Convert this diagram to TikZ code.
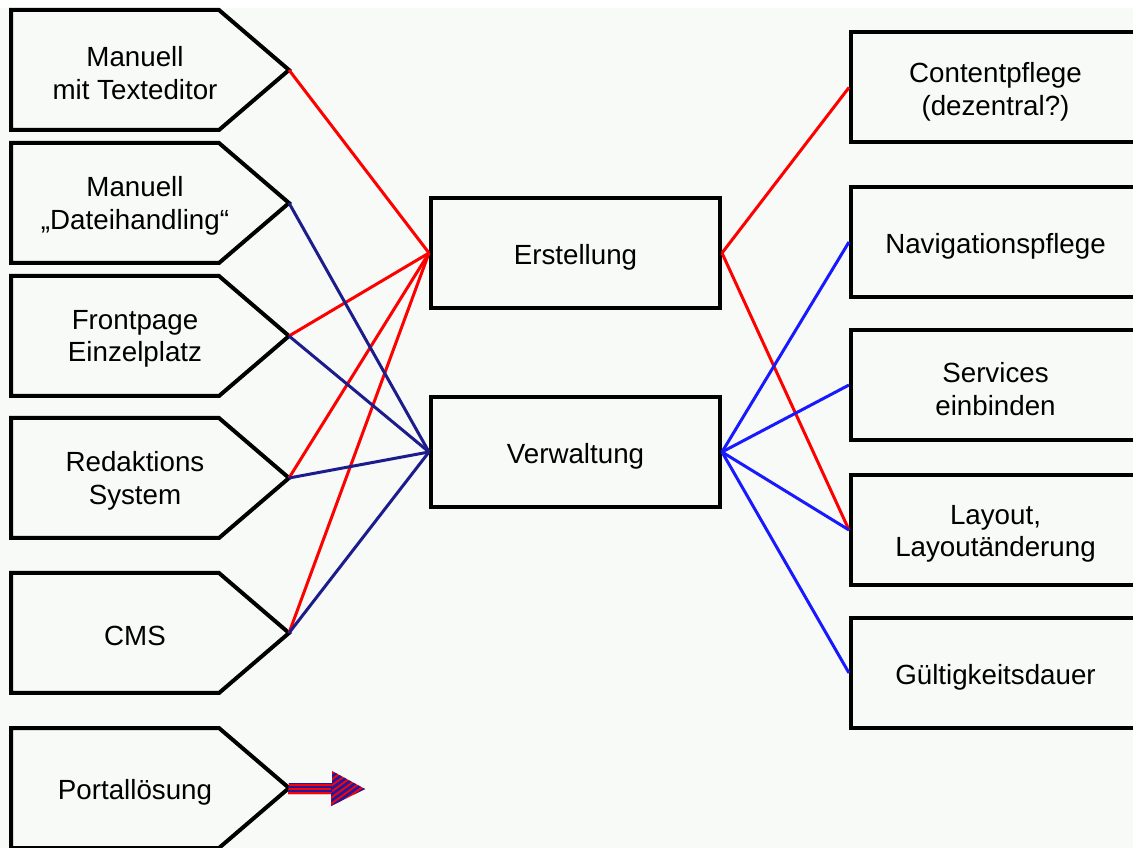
\documentclass[tikz,border=0pt]{standalone}
\usepackage{fontspec}
\setmainfont{Liberation Sans}
\definecolor{paper}{RGB}{247,250,247}
\definecolor{linkred}{RGB}{255,0,0}
\definecolor{linknavy}{RGB}{28,28,140}
\definecolor{linkblue}{RGB}{25,25,255}
\begin{document}
\begin{tikzpicture}[x=0.75pt,y=-0.75pt,
  frame/.style={draw=black,line width=3pt,line join=miter},
  txt/.style={font=\fontsize{20.8}{24.5}\selectfont,align=center,inner sep=0pt},
  box/.style={frame,fill=paper,minimum width=216.75pt,minimum height=82.5pt},
  boxtext/.style={txt,yshift=-3pt},
  redlink/.style={draw=linkred,line width=2.25pt},
  navylink/.style={draw=linknavy,line width=2.25pt},
  bluelink/.style={draw=linkblue,line width=2.25pt}]
% canvas
\clip (0,0) rectangle (1133,848);
\fill[white] (0,0) rectangle (1133,848);
\fill[paper] (0,8) rectangle (1133,848);

% source shapes (pentagons pointing right)
\foreach[count=\i] \ty in {10,143,276,418,573,728} {
  \draw[frame,fill=paper] (11,\ty) -- (219,\ty) -- (289,\ty+60) -- (219,\ty+120) -- (11,\ty+120) -- cycle;
  \coordinate (tip\i) at (289,\ty+60);
}
\node[txt] (src1) at (135,73) {Manuell\\mit Texteditor};
\node[txt] (src2) at (135,206) {Manuell\\„Dateihandling“};
\node[txt] (src3) at (135,339) {Frontpage\\Einzelplatz};
\node[txt] (src4) at (135,481) {Redaktions\\System};
\node[txt] (src5) at (135,636) {CMS};
\node[txt] (src6) at (135,792) {Portallösung};

% central boxes
\node[box] (erst) at (575.5,253) {};
\node[boxtext] (erst-t) at (erst) {Erstellung};
\node[box] (verw) at (575.5,452) {};
\node[boxtext] (verw-t) at (verw) {Verwaltung};

% task boxes on the right
\node[box] (content) at (995.5,87.5) {};
\node[boxtext] (content-t) at (content) {Contentpflege\\(dezentral?)};
\node[box] (navi) at (995.5,242) {};
\node[boxtext] (navi-t) at (navi) {Navigationspflege};
\node[box] (serv) at (995.5,385) {};
\node[boxtext] (serv-t) at (serv) {Services\\einbinden};
\node[box] (layout) at (995.5,530) {};
\node[boxtext] (layout-t) at (layout) {Layout,\\Layoutänderung};
\node[box] (valid) at (995.5,673) {};
\node[boxtext] (valid-t) at (valid) {Gültigkeitsdauer};

% links from the sources
\draw[redlink] (tip1) -- (erst.west);
\draw[redlink] (tip3) -- (erst.west);
\draw[redlink] (tip4) -- (erst.west);
\draw[redlink] (tip5) -- (erst.west);
\draw[navylink] (tip2) -- (verw.west);
\draw[navylink] (tip3) -- (verw.west);
\draw[navylink] (tip4) -- (verw.west);
\draw[navylink] (tip5) -- (verw.west);

% links to the tasks
\draw[redlink] (erst.east) -- (content.west);
\draw[redlink] (erst.east) -- (layout.west);
\draw[bluelink] (verw.east) -- (navi.west);
\draw[bluelink] (verw.east) -- (serv.west);
\draw[bluelink] (verw.east) -- (layout.west);
\draw[bluelink] (verw.east) -- (valid.west);

% striped arrow out of the portal shape
\coordinate (portalend) at (365,789);
\def\portalarrow{(tip6) ++(0,-5) -- ++(43,0) -- ++(0,-12) -- (portalend) -- ++(-34,17) -- ++(0,-12) -- ++(-43,0) -- cycle}
\fill[linkred] \portalarrow;
\begin{scope}
  \clip \portalarrow;
  \begin{scope}
    \clip (288,760) rectangle (332,820);
    \foreach \k in {-6,-2,2,6} \draw[linknavy!80!linkblue,line width=1.2pt] (286,789+\k) -- (334,789+\k);
  \end{scope}
  \begin{scope}
    \clip (331,760) rectangle (370,820);
    \foreach \k in {-30,-24,...,30} \draw[linknavy!80!linkblue,line width=2pt] (320,789+\k+20) -- (375,789+\k-20);
  \end{scope}
\end{scope}
\end{tikzpicture}
\end{document}
